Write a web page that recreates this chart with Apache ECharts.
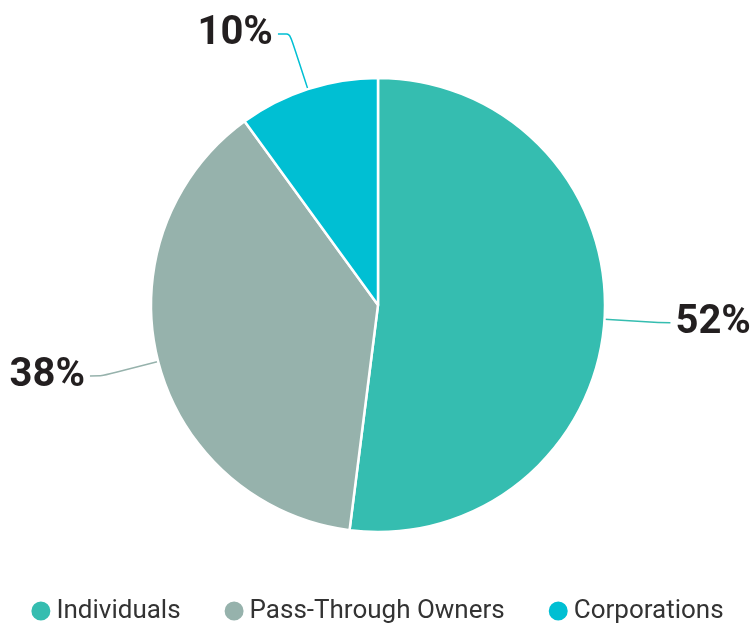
<!DOCTYPE html>
<html>
<head>
<meta charset="utf-8">
<script src="https://cdn.jsdelivr.net/npm/echarts@6/dist/echarts.min.js"></script>
<style>
  html, body { margin: 0; padding: 0; background: #fff; }
  #chart { width: 753px; height: 627px; }
</style>
</head>
<body>
<div id="chart"></div>
<script>
// slice names and shares (percent)
var categories = ['Individuals', 'Pass-Through Owners', 'Corporations']
var shares = [52, 38, 10]
var colors = ['#35bdb0', '#96b2ac', '#00bfd3']
// label line lengths for each slice
var lineLen = [[54, 12], [58, 12], [58, 12]]

var chart = echarts.init(document.getElementById('chart'))

var pieData = categories.map(function (name, i) {
  return {
    name: name,
    value: shares[i],
    itemStyle: { color: colors[i] },
    labelLine: {
      length: lineLen[i][0],
      length2: lineLen[i][1],
      lineStyle: { color: colors[i], width: 1.5 }
    }
  }
})

var option = {
  animation: false,
  textStyle: { fontFamily: 'Roboto' },
  legend: {
    bottom: -2,
    left: 'center',
    icon: 'circle',
    itemWidth: 21,
    itemHeight: 21,
    itemGap: 42,
    textStyle: { fontSize: 26, color: '#333', fontFamily: 'Roboto' },
    data: categories
  },
  series: [
    {
      type: 'pie',
      center: [378, 305],
      radius: [0, 227],
      startAngle: 90,
      clockwise: true,
      itemStyle: { borderColor: '#fff', borderWidth: 2.5 },
      label: {
        formatter: '{c}%',
        fontSize: 40,
        fontWeight: 'bold',
        color: '#231f20',
        fontFamily: 'Roboto',
        overflow: 'none'
      },
      labelLine: { smooth: 0.2 },
      data: pieData
    }
  ]
}
chart.setOption(option)
</script>
</body>
</html>
